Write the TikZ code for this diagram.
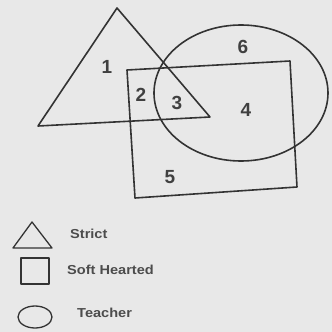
\documentclass[tikz,border=0pt]{standalone}
\usepackage{fontspec}
\setmainfont{Liberation Sans}
\begin{document}
\begin{tikzpicture}[x=1pt,y=-1pt,
  shp/.style={draw=black!80, line width=1.6pt, line join=round},
  num/.style={font=\fontsize{19}{19}\selectfont\bfseries, text=black!75, inner sep=0pt},
  leg/.style={font=\fontsize{13}{13}\selectfont\bfseries, text=black!70, inner sep=0pt, anchor=west, xscale=1.12}]
\fill[black!9] (0,0) rectangle (332,332);
\useasboundingbox (0,0) rectangle (332,332);
% triangle (Strict)
\coordinate (tA) at (117,8);
\coordinate (tL) at (38,126);
\coordinate (tR) at (210,117);
\draw[shp] (tA) -- (tL) -- (tR) -- cycle;
% rectangle (Soft Hearted)
\coordinate (r1) at (127,70);
\coordinate (r2) at (290,61);
\coordinate (r3) at (297,187);
\coordinate (r4) at (135,198);
\draw[shp] (r1) -- (r2) -- (r3) -- (r4) -- cycle;
% ellipse (Teacher)
\coordinate (eC) at (241,93);
\draw[shp] (eC) ellipse [x radius=87, y radius=68];
% region labels
\node[num] (n1) at (107,67) {1};
\node[num] (n2) at (141,95) {2};
\node[num] (n3) at (177,103) {3};
\node[num] (n4) at (246,110) {4};
\node[num] (n5) at (170,177) {5};
\node[num] (n6) at (243,47) {6};
% legend
\coordinate (lt1) at (32,222);
\coordinate (lt2) at (13,248);
\coordinate (lt3) at (52,248);
\draw[shp, line width=1.3pt] (lt1) -- (lt2) -- (lt3) -- cycle;
\node[leg] (ls) at (70,234) {Strict};
\coordinate (ls1) at (21,258);
\coordinate (ls2) at (49,284);
\draw[shp, line width=1.3pt] (ls1) rectangle (ls2);
\node[leg] (lh) at (67,270) {Soft Hearted};
\coordinate (le) at (35,317);
\draw[shp, line width=1.3pt] (le) ellipse [x radius=17, y radius=11];
\node[leg] (lte) at (77,313) {Teacher};
\end{tikzpicture}
\end{document}
